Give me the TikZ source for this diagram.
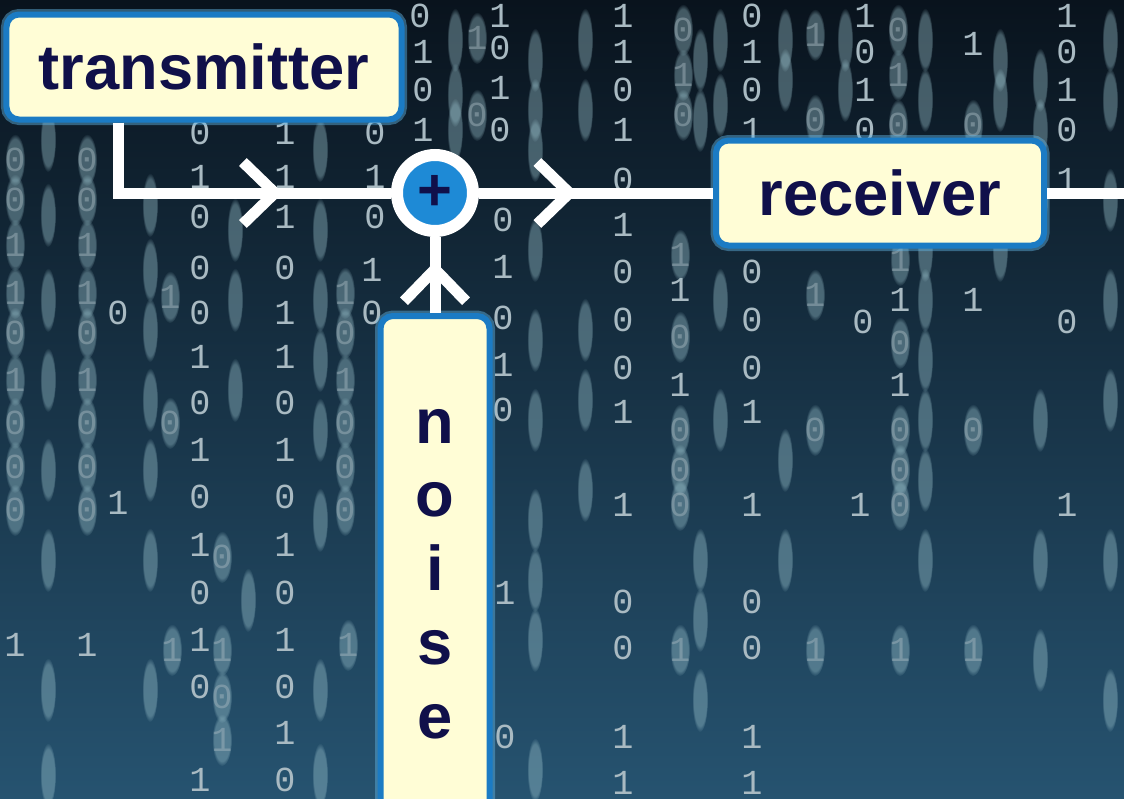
\documentclass[tikz,border=0pt]{standalone}
\usepackage{fontspec}
\setmainfont{Liberation Sans}
\newfontfamily\bitfont{Liberation Mono}
\usetikzlibrary{arrows.meta,decorations.markings,fadings,calc}

\definecolor{bgtop}{HTML}{09131D}
\definecolor{bgmid}{HTML}{132D43}
\definecolor{bgbot}{HTML}{265370}
\definecolor{boxfill}{HTML}{FFFDD6}
\definecolor{boxblue}{HTML}{1B7BC4}
\definecolor{glowblue}{HTML}{63B6E6}
\definecolor{sumblue}{HTML}{1E8AD6}
\definecolor{navy}{HTML}{10104A}
\definecolor{bitgrey}{HTML}{A9BAC2}
\definecolor{streakblue}{HTML}{9CC4CE}

\begin{document}
\begin{tikzpicture}[x=0.2mm, y=-0.2mm,
	box/.style={rectangle, rounded corners=0.25cm, draw=boxblue, line width=0.12cm,
		fill=boxfill, text=navy, font=\fontsize{36}{42}\selectfont\bfseries,
		preaction={draw=glowblue, line width=0.22cm, opacity=0.45}},
	wire/.style={draw=white, line width=0.22cm},
	midarrow/.style={postaction={decorate}, decoration={markings,
		mark=at position #1 with {\arrow{Straight Barb[length=0.64cm, width=1.24cm]}}}},
	bit/.style={text=bitgrey, font=\fontsize{20}{20}\selectfont\bitfont},
	hazebit/.style={bit, opacity=0.45},
	streak/.style={fill=streakblue, opacity=0.4, path fading=circle with fuzzy edge 20 percent}]

	\useasboundingbox (0,0) rectangle (1124,799);
	\clip (0,0) rectangle (1124,799);
	\shade[top color=bgtop, middle color=bgmid, bottom color=bgbot] (0,0) rectangle (1124,799);

	% falling bits
	\foreach \x/\y in {48/140, 48/215, 48/300, 48/380, 48/470, 48/560, 48/690, 48/775,
			150/205, 150/270, 150/330, 150/400, 150/470, 150/560, 150/690,
			235/230, 235/300, 235/390, 248/600,
			320/90, 320/150, 320/230, 320/300, 320/360, 320/430, 320/520, 320/690, 320/775,
			455/40, 455/95, 455/130,
			535/60, 535/110, 535/150, 535/250, 535/340, 535/420, 535/520, 535/580, 535/640, 535/770,
			585/40, 585/110, 585/330, 585/400, 585/490,
			700/60, 700/120, 700/560, 700/620, 700/700,
			720/40, 720/105, 720/300, 720/420,
			785/40, 785/80, 785/170, 785/460, 785/560,
			845/40, 845/90,
			925/40, 925/100, 925/170, 925/250, 925/300, 925/360, 925/420, 925/480, 925/560,
			1000/60, 1000/100, 1000/250,
			1040/80, 1040/130, 1040/200, 1040/420, 1040/560, 1040/660,
			1110/40, 1110/100, 1110/200, 1110/300, 1110/400, 1110/560, 1110/700} {
		\fill[streak] (\x,\y) ellipse [x radius=8, y radius=32];
	}

	\foreach \x/\y/\d [count=\i] in {420/16/0, 500/16/1, 623/16/1, 752/16/0, 865/16/1, 1067/16/1,
			423/52/1, 500/48/0, 623/52/1, 752/52/1, 865/52/0, 973/44/1, 1067/52/0,
			423/90/0, 500/88/1, 623/90/0, 752/90/0, 865/90/1, 1067/90/1,
			423/130/1, 500/130/0, 623/130/1, 752/130/1, 865/130/0, 1067/130/0,
			200/133/0, 285/133/1, 375/133/0,
			200/177/1, 285/177/1, 375/177/1, 623/180/0, 1067/180/1,
			200/217/0, 285/217/1, 375/217/0, 503/220/0, 623/225/1,
			200/268/0, 285/268/0, 372/270/1, 503/267/1, 623/272/0, 752/272/0, 680/290/1, 900/300/1, 973/300/1,
			118/313/0, 200/313/0, 285/313/1, 372/313/0, 503/318/0, 623/320/0, 752/320/0, 863/322/0, 1067/322/0,
			200/357/1, 285/357/1, 503/365/1, 623/368/0, 752/368/0, 680/385/1, 900/385/1,
			200/403/0, 285/403/0, 503/410/0, 623/412/1, 752/412/1,
			200/450/1, 285/450/1,
			200/497/0, 285/497/0, 118/503/1, 623/505/1, 752/505/1, 860/505/1, 1067/505/1,
			200/545/1, 285/545/1,
			200/593/0, 285/593/0, 505/593/1, 623/602/0, 752/602/0,
			15/645/1, 87/645/1, 200/640/1, 285/640/1, 623/648/0, 752/648/0,
			200/687/0, 285/687/0,
			285/733/1, 505/737/0, 623/737/1, 752/737/1,
			200/780/1, 285/780/0, 623/783/1, 752/783/1} {
		\node[bit] (bit\i) at (\x,\y) {\d};
	}

	\foreach \x/\y/\d [count=\i] in {15/160/0, 15/200/0, 15/245/1, 15/293/1, 15/333/0, 15/380/1,
			15/423/0, 15/467/0, 15/510/0,
			87/160/0, 87/200/0, 87/245/1, 87/293/1, 87/333/0, 87/380/1, 87/423/0, 87/467/0, 87/510/0,
			170/297/1, 170/423/0, 172/650/1, 222/557/0, 222/650/1, 222/697/0, 222/740/1,
			345/293/1, 345/333/0, 345/380/1, 345/423/0, 345/467/0, 345/510/0, 348/645/1,
			477/38/1, 477/115/0, 683/30/0, 683/75/1, 683/115/0, 815/35/1, 815/120/0,
			898/30/0, 898/75/1, 898/125/0, 973/125/0,
			680/255/1, 680/337/0, 680/430/0, 680/470/0, 680/505/0, 680/650/1,
			815/295/1, 815/430/0, 815/650/1,
			900/260/1, 900/343/0, 900/430/0, 900/470/0, 900/505/0, 900/650/1,
			973/430/0, 973/650/1} {
		\fill[streak] (\x,\y) ellipse [x radius=10, y radius=26];
		\node[hazebit] (haze\i) at (\x,\y) {\d};
	}

	\path (204,67) node[box, minimum width=7.9cm, minimum height=2.1cm] (tx) {transmitter}
		(435,193) node[circle, fill=sumblue, draw=white, line width=0.24cm, minimum size=1.52cm,
			inner sep=0pt, text=navy, font=\fontsize{34}{34}\selectfont\bfseries] (sum) {+}
		(880,193) node[box, minimum width=6.56cm, minimum height=2.1cm] (rx) {receiver}
		(435,313) node[box, anchor=north, minimum width=2.18cm, inner ysep=1.86cm, align=center] (noise)
			{n\\o\\i\\s\\e};

	\coordinate (bend) at (118,193);
	\coordinate (out) at (1124,193);

	\draw[wire, midarrow=0.685] (tx.south -| bend) -- (bend) -- (sum);
	\draw[wire, midarrow=0.42] (sum) -- (rx);
	\draw[wire] (rx) -- (out);
	\draw[wire, midarrow=0.68] (noise) -- (sum);
\end{tikzpicture}
\end{document}
